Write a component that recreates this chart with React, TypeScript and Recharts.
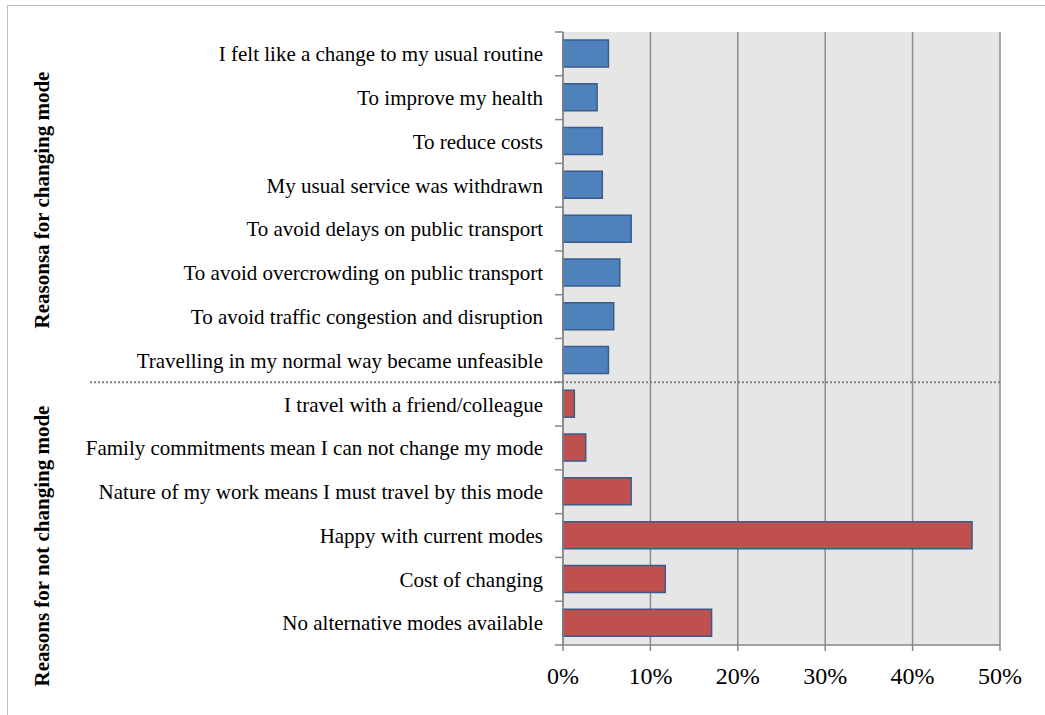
import { BarChart, Bar, XAxis, YAxis, CartesianGrid, Cell } from 'recharts'

const categories = [
  'I felt like a change to my usual routine',
  'To improve my health',
  'To reduce costs',
  'My usual service was withdrawn',
  'To avoid delays on public transport',
  'To avoid overcrowding on public transport',
  'To avoid traffic congestion and disruption',
  'Travelling in my normal way became unfeasible',
  'I travel with a friend/colleague',
  'Family commitments mean I can not change my mode ',
  'Nature of my work means I must travel by this mode',
  'Happy with current modes',
  'Cost of changing',
  'No alternative modes available',
]
const shares = [5.2, 3.9, 4.5, 4.5, 7.8, 6.5, 5.8, 5.2, 1.3, 2.6, 7.8, 46.8, 11.7, 17.0]
const groups = ['change', 'change', 'change', 'change', 'change', 'change', 'change', 'change',
  'stay', 'stay', 'stay', 'stay', 'stay', 'stay']
const xTicks = [0, 10, 20, 30, 40, 50]

const groupColors: Record<string, string> = { change: '#4F81BD', stay: '#C0504D' }
const FONT = '"Times New Roman", "Liberation Serif", serif'
const PLOT_H = 613
const BAND = PLOT_H / categories.length

const data = categories.map((name, i) => ({ name, value: shares[i], group: groups[i] }))

function CategoryTick(props: any) {
  const { x, y, payload, index } = props
  const top = y - BAND / 2
  return (
    <g>
      <text x={x} y={y} dy="0.35em" textAnchor="end" fontFamily={FONT} fontSize={21} fill="#000">
        {payload.value}
      </text>
      <line x1={x + 12} x2={x + 20} y1={top} y2={top} stroke="#868686" strokeWidth={1.5} />
      {index === categories.length - 1 && (
        <line x1={x + 12} x2={x + 20} y1={y + BAND / 2} y2={y + BAND / 2} stroke="#868686" strokeWidth={1.5} />
      )}
      {index === groups.indexOf('stay') && (
        <line x1={x - 453} x2={x + 457} y1={top} y2={top} stroke="#7F7F7F" strokeWidth={2} strokeDasharray="2 2" />
      )}
    </g>
  )
}

const sideLabel = (text: string, centerY: number) => (
  <div
    style={{
      position: 'absolute',
      left: 42,
      top: centerY,
      transform: 'translate(-50%, -50%) rotate(-90deg)',
      whiteSpace: 'nowrap',
      fontFamily: FONT,
      fontWeight: 'bold',
      fontSize: 21,
    }}
  >
    {text}
  </div>
)

export default function App() {
  return (
    <div style={{ position: 'absolute', left: 0, top: 0, width: 1045, height: 715, background: '#fff', overflow: 'hidden' }}>
      <div style={{ position: 'absolute', left: 7, top: 5, width: 1100, height: 800, border: '1px solid #BFBFBF' }} />
      <BarChart
        width={1045}
        height={715}
        layout="vertical"
        data={data}
        margin={{ top: 32, right: 45, bottom: 0, left: 0 }}
        barCategoryGap="38%"
      >
        <CartesianGrid horizontal={false} stroke="#8C8C8C" strokeWidth={1.5} fill="#E6E6E6" />
        <XAxis
          type="number"
          domain={[0, 50]}
          ticks={xTicks}
          tickFormatter={(v: number) => `${v}%`}
          tick={{ fontFamily: FONT, fontSize: 24, fill: '#000' }}
          axisLine={{ stroke: '#868686', strokeWidth: 1.5 }}
          tickLine={{ stroke: '#868686', strokeWidth: 1.5 }}
          tickSize={6}
          tickMargin={16}
          height={70}
        />
        <YAxis
          type="category"
          dataKey="name"
          width={563}
          interval={0}
          tick={<CategoryTick />}
          tickLine={false}
          tickSize={0}
          tickMargin={20}
          axisLine={{ stroke: '#868686', strokeWidth: 1.5 }}
        />
        <Bar dataKey="value" barSize={27} stroke="#385D8A" strokeWidth={1.5} isAnimationActive={false}>
          {data.map((d, i) => (
            <Cell key={i} fill={groupColors[d.group]} />
          ))}
        </Bar>
      </BarChart>
      {sideLabel('Reasonsa for changing mode', 200)}
      {sideLabel('Reasons for not changing mode', 546)}
    </div>
  )
}
